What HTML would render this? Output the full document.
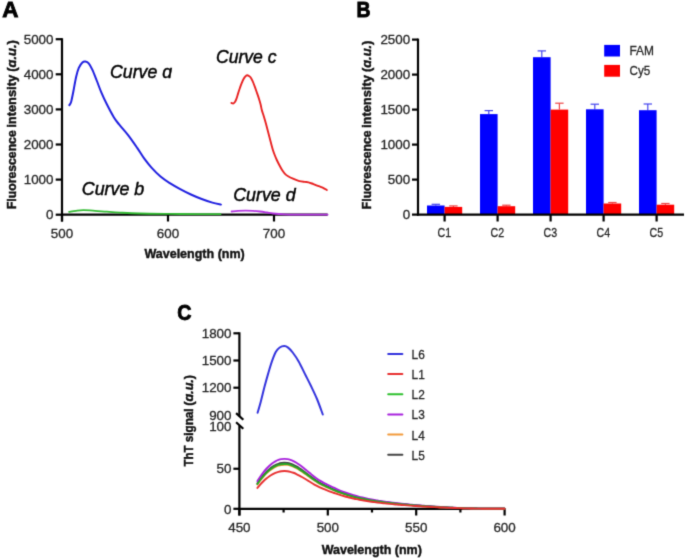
<!DOCTYPE html>
<html><head><meta charset="utf-8"><title>Figure</title>
<style>
html,body{margin:0;padding:0;background:#fff;}
body{width:685px;height:558px;overflow:hidden;}
#w{width:685px;height:558px;}
svg{display:block;will-change:transform;font-family:"Liberation Sans", sans-serif;}
</style></head><body>
<div id="w"><svg width="685" height="558" viewBox="0 0 685 558">
<defs><filter id="bl" x="0" y="0" width="100%" height="100%" color-interpolation-filters="sRGB"><feConvolveMatrix order="3" kernelMatrix="0.0192 0.1001 0.0192 0.1001 0.5228 0.1001 0.0192 0.1001 0.0192" edgeMode="duplicate"/></filter></defs>
<g filter="url(#bl)">
<rect x="0" y="0" width="685" height="558" fill="#fff"/>
<text x="2.30" y="17.20" font-size="22.40" text-anchor="start" font-weight="bold" font-style="normal" fill="#000" stroke="#000" stroke-width="0.90">A</text>
<line x1="62.00" y1="38.20" x2="62.00" y2="221.50" stroke="#000" stroke-width="2.20" stroke-linecap="butt"/>
<line x1="61.00" y1="214.70" x2="327.60" y2="214.70" stroke="#000" stroke-width="2.20" stroke-linecap="butt"/>
<line x1="55.70" y1="214.70" x2="62.00" y2="214.70" stroke="#000" stroke-width="2.20" stroke-linecap="butt"/>
<text x="53.50" y="219.10" font-size="13.40" text-anchor="end" font-weight="normal" font-style="normal" fill="#262626" stroke="#262626" stroke-width="0.30">0</text>
<line x1="55.70" y1="179.60" x2="62.00" y2="179.60" stroke="#000" stroke-width="2.20" stroke-linecap="butt"/>
<text x="53.50" y="184.00" font-size="13.40" text-anchor="end" font-weight="normal" font-style="normal" fill="#262626" stroke="#262626" stroke-width="0.30">1000</text>
<line x1="55.70" y1="144.50" x2="62.00" y2="144.50" stroke="#000" stroke-width="2.20" stroke-linecap="butt"/>
<text x="53.50" y="148.90" font-size="13.40" text-anchor="end" font-weight="normal" font-style="normal" fill="#262626" stroke="#262626" stroke-width="0.30">2000</text>
<line x1="55.70" y1="109.40" x2="62.00" y2="109.40" stroke="#000" stroke-width="2.20" stroke-linecap="butt"/>
<text x="53.50" y="113.80" font-size="13.40" text-anchor="end" font-weight="normal" font-style="normal" fill="#262626" stroke="#262626" stroke-width="0.30">3000</text>
<line x1="55.70" y1="74.30" x2="62.00" y2="74.30" stroke="#000" stroke-width="2.20" stroke-linecap="butt"/>
<text x="53.50" y="78.70" font-size="13.40" text-anchor="end" font-weight="normal" font-style="normal" fill="#262626" stroke="#262626" stroke-width="0.30">4000</text>
<line x1="55.70" y1="39.20" x2="62.00" y2="39.20" stroke="#000" stroke-width="2.20" stroke-linecap="butt"/>
<text x="53.50" y="43.60" font-size="13.40" text-anchor="end" font-weight="normal" font-style="normal" fill="#262626" stroke="#262626" stroke-width="0.30">5000</text>
<line x1="62.00" y1="214.70" x2="62.00" y2="221.50" stroke="#000" stroke-width="2.20" stroke-linecap="butt"/>
<text x="62.00" y="237.60" font-size="13.40" text-anchor="middle" font-weight="normal" font-style="normal" fill="#262626" stroke="#262626" stroke-width="0.30">500</text>
<line x1="168.00" y1="214.70" x2="168.00" y2="221.50" stroke="#000" stroke-width="2.20" stroke-linecap="butt"/>
<text x="168.00" y="237.60" font-size="13.40" text-anchor="middle" font-weight="normal" font-style="normal" fill="#262626" stroke="#262626" stroke-width="0.30">600</text>
<line x1="274.00" y1="214.70" x2="274.00" y2="221.50" stroke="#000" stroke-width="2.20" stroke-linecap="butt"/>
<text x="274.00" y="237.60" font-size="13.40" text-anchor="middle" font-weight="normal" font-style="normal" fill="#262626" stroke="#262626" stroke-width="0.30">700</text>
<text x="194.60" y="258.30" font-size="13.40" text-anchor="middle" font-weight="bold" font-style="normal" fill="#111" textLength="100.40" lengthAdjust="spacingAndGlyphs" stroke="#111" stroke-width="0.45">Wavelength (nm)</text>
<text transform="translate(16.20,209.10) rotate(-90)" x="0" y="0" font-size="12.80" font-weight="bold" fill="#111" stroke="#111" stroke-width="0.45" textLength="78.80" lengthAdjust="spacingAndGlyphs">Fluorescence</text>
<text transform="translate(16.20,127.80) rotate(-90)" x="0" y="0" font-size="12.80" font-weight="bold" fill="#111" stroke="#111" stroke-width="0.45" textLength="52.90" lengthAdjust="spacingAndGlyphs">intensity</text>
<text transform="translate(16.20,71.80) rotate(-90)" x="0" y="0" font-size="12.80" font-weight="bold" fill="#111" stroke="#111" stroke-width="0.45" textLength="31.70" lengthAdjust="spacingAndGlyphs">(<tspan font-style="italic">&#x251;.u.</tspan>)</text>
<path d="M69.30,105.20 C69.60,104.67 70.42,104.33 71.10,102.00 C71.78,99.67 72.57,95.38 73.40,91.20 C74.23,87.02 75.20,80.78 76.10,76.90 C77.00,73.02 77.75,70.30 78.80,67.90 C79.85,65.50 81.30,63.55 82.40,62.50 C83.50,61.45 84.35,61.45 85.40,61.60 C86.45,61.75 87.55,62.05 88.70,63.40 C89.85,64.75 90.97,66.85 92.30,69.70 C93.63,72.55 95.22,76.77 96.70,80.50 C98.18,84.23 99.55,88.22 101.20,92.10 C102.85,95.98 104.50,99.62 106.60,103.80 C108.70,107.98 111.72,113.77 113.80,117.20 C115.88,120.63 116.72,121.42 119.10,124.40 C121.48,127.38 125.08,131.18 128.10,135.10 C131.12,139.02 134.50,143.97 137.20,147.90 C139.90,151.83 141.92,155.42 144.30,158.70 C146.68,161.98 148.80,164.62 151.50,167.60 C154.20,170.58 157.52,174.05 160.50,176.60 C163.48,179.15 166.12,180.82 169.40,182.90 C172.68,184.98 176.62,187.17 180.20,189.10 C183.78,191.03 187.32,192.85 190.90,194.50 C194.48,196.15 198.12,197.65 201.70,199.00 C205.28,200.35 209.18,201.67 212.40,202.60 C215.62,203.53 219.57,204.27 221.00,204.60" fill="none" stroke="#2020e0" stroke-width="2.00" stroke-linejoin="round" stroke-linecap="round"/>
<path d="M231.40,103.00 C231.73,103.07 232.78,103.62 233.40,103.40 C234.02,103.18 234.58,102.50 235.10,101.70 C235.62,100.90 235.98,100.03 236.50,98.60 C237.02,97.17 237.63,94.87 238.20,93.10 C238.77,91.33 239.33,89.63 239.90,88.00 C240.47,86.37 240.97,84.83 241.60,83.30 C242.23,81.77 243.07,79.97 243.70,78.80 C244.33,77.63 244.83,76.88 245.40,76.30 C245.97,75.72 246.53,75.37 247.10,75.30 C247.67,75.23 248.23,75.57 248.80,75.90 C249.37,76.23 249.88,76.47 250.50,77.30 C251.12,78.13 251.83,79.47 252.50,80.90 C253.17,82.33 253.82,84.08 254.50,85.90 C255.18,87.72 255.92,89.85 256.60,91.80 C257.28,93.75 257.95,95.58 258.60,97.60 C259.25,99.62 259.97,101.83 260.50,103.90 C261.03,105.97 261.32,108.15 261.80,110.00 C262.28,111.85 262.88,113.33 263.40,115.00 C263.92,116.67 264.42,118.33 264.90,120.00 C265.38,121.67 265.85,123.33 266.30,125.00 C266.75,126.67 267.17,128.33 267.60,130.00 C268.03,131.67 268.47,133.33 268.90,135.00 C269.33,136.67 269.77,138.33 270.20,140.00 C270.63,141.67 271.05,143.33 271.50,145.00 C271.95,146.67 272.37,148.33 272.90,150.00 C273.43,151.67 274.05,153.33 274.70,155.00 C275.35,156.67 276.03,158.33 276.80,160.00 C277.57,161.67 278.42,163.33 279.30,165.00 C280.18,166.67 281.15,168.53 282.10,170.00 C283.05,171.47 284.00,172.77 285.00,173.80 C286.00,174.83 286.77,175.38 288.10,176.20 C289.43,177.02 291.12,177.88 293.00,178.70 C294.88,179.52 297.43,180.57 299.40,181.10 C301.37,181.63 303.28,181.70 304.80,181.90 C306.32,182.10 307.07,181.93 308.50,182.30 C309.93,182.67 311.68,183.45 313.40,184.10 C315.12,184.75 317.18,185.58 318.80,186.20 C320.42,186.82 321.77,187.17 323.10,187.80 C324.43,188.43 326.18,189.63 326.80,190.00" fill="none" stroke="#e82020" stroke-width="1.90" stroke-linejoin="round" stroke-linecap="round"/>
<path d="M69.10,211.90 C70.25,211.72 73.62,211.08 76.00,210.80 C78.38,210.52 80.23,210.20 83.40,210.20 C86.57,210.20 91.12,210.55 95.00,210.80 C98.88,211.05 102.53,211.40 106.70,211.70 C110.87,212.00 114.45,212.30 120.00,212.60 C125.55,212.90 131.67,213.28 140.00,213.50 C148.33,213.72 160.00,213.80 170.00,213.90 C180.00,214.00 191.58,214.05 200.00,214.10 C208.42,214.15 217.08,214.18 220.50,214.20" fill="none" stroke="#33bb33" stroke-width="1.80" stroke-linejoin="round" stroke-linecap="round"/>
<path d="M231.60,211.50 C232.67,211.40 235.65,211.05 238.00,210.90 C240.35,210.75 243.20,210.60 245.70,210.60 C248.20,210.60 250.60,210.75 253.00,210.90 C255.40,211.05 257.77,211.23 260.10,211.50 C262.43,211.77 264.85,212.17 267.00,212.50 C269.15,212.83 270.13,213.18 273.00,213.50 C275.87,213.82 279.70,214.22 284.20,214.40 C288.70,214.58 292.77,214.57 300.00,214.60 C307.23,214.63 323.00,214.60 327.60,214.60" fill="none" stroke="#b233e0" stroke-width="1.80" stroke-linejoin="round" stroke-linecap="round"/>
<text x="110.00" y="78.40" font-size="18.00" text-anchor="start" font-weight="normal" font-style="italic" fill="#000" textLength="62.00" lengthAdjust="spacingAndGlyphs" stroke="#000" stroke-width="0.45">Curve &#x251;</text>
<text x="216.00" y="63.40" font-size="18.00" text-anchor="start" font-weight="normal" font-style="italic" fill="#000" textLength="60.50" lengthAdjust="spacingAndGlyphs" stroke="#000" stroke-width="0.45">Curve c</text>
<text x="81.80" y="194.70" font-size="18.00" text-anchor="start" font-weight="normal" font-style="italic" fill="#000" textLength="62.50" lengthAdjust="spacingAndGlyphs" stroke="#000" stroke-width="0.45">Curve b</text>
<text x="233.20" y="201.30" font-size="18.00" text-anchor="start" font-weight="normal" font-style="italic" fill="#000" textLength="62.50" lengthAdjust="spacingAndGlyphs" stroke="#000" stroke-width="0.45">Curve d</text>
<text x="356.60" y="17.20" font-size="22.40" text-anchor="start" font-weight="bold" font-style="normal" fill="#000" textLength="14.00" lengthAdjust="spacingAndGlyphs" stroke="#000" stroke-width="0.90">B</text>
<line x1="435.80" y1="204.30" x2="435.80" y2="205.50" stroke="#4444ee" stroke-width="1.20" stroke-linecap="butt"/>
<line x1="431.60" y1="204.30" x2="440.00" y2="204.30" stroke="#4444ee" stroke-width="1.20" stroke-linecap="butt"/>
<line x1="453.40" y1="205.90" x2="453.40" y2="206.90" stroke="#ee4444" stroke-width="1.20" stroke-linecap="butt"/>
<line x1="449.20" y1="205.90" x2="457.60" y2="205.90" stroke="#ee4444" stroke-width="1.20" stroke-linecap="butt"/>
<rect x="427.00" y="205.50" width="17.60" height="9.10" fill="#0000ff"/>
<rect x="444.60" y="206.90" width="17.60" height="7.70" fill="#ff0000"/>
<line x1="488.80" y1="110.60" x2="488.80" y2="114.10" stroke="#4444ee" stroke-width="1.20" stroke-linecap="butt"/>
<line x1="484.60" y1="110.60" x2="493.00" y2="110.60" stroke="#4444ee" stroke-width="1.20" stroke-linecap="butt"/>
<line x1="506.40" y1="205.20" x2="506.40" y2="206.20" stroke="#ee4444" stroke-width="1.20" stroke-linecap="butt"/>
<line x1="502.20" y1="205.20" x2="510.60" y2="205.20" stroke="#ee4444" stroke-width="1.20" stroke-linecap="butt"/>
<rect x="480.00" y="114.10" width="17.60" height="100.50" fill="#0000ff"/>
<rect x="497.60" y="206.20" width="17.60" height="8.40" fill="#ff0000"/>
<line x1="541.80" y1="50.90" x2="541.80" y2="57.20" stroke="#4444ee" stroke-width="1.20" stroke-linecap="butt"/>
<line x1="537.60" y1="50.90" x2="546.00" y2="50.90" stroke="#4444ee" stroke-width="1.20" stroke-linecap="butt"/>
<line x1="559.40" y1="103.20" x2="559.40" y2="109.60" stroke="#ee4444" stroke-width="1.20" stroke-linecap="butt"/>
<line x1="555.20" y1="103.20" x2="563.60" y2="103.20" stroke="#ee4444" stroke-width="1.20" stroke-linecap="butt"/>
<rect x="533.00" y="57.20" width="17.60" height="157.40" fill="#0000ff"/>
<rect x="550.60" y="109.60" width="17.60" height="105.00" fill="#ff0000"/>
<line x1="594.80" y1="104.20" x2="594.80" y2="109.30" stroke="#4444ee" stroke-width="1.20" stroke-linecap="butt"/>
<line x1="590.60" y1="104.20" x2="599.00" y2="104.20" stroke="#4444ee" stroke-width="1.20" stroke-linecap="butt"/>
<line x1="612.40" y1="202.50" x2="612.40" y2="203.50" stroke="#ee4444" stroke-width="1.20" stroke-linecap="butt"/>
<line x1="608.20" y1="202.50" x2="616.60" y2="202.50" stroke="#ee4444" stroke-width="1.20" stroke-linecap="butt"/>
<rect x="586.00" y="109.30" width="17.60" height="105.30" fill="#0000ff"/>
<rect x="603.60" y="203.50" width="17.60" height="11.10" fill="#ff0000"/>
<line x1="647.80" y1="104.00" x2="647.80" y2="110.20" stroke="#4444ee" stroke-width="1.20" stroke-linecap="butt"/>
<line x1="643.60" y1="104.00" x2="652.00" y2="104.00" stroke="#4444ee" stroke-width="1.20" stroke-linecap="butt"/>
<line x1="665.40" y1="203.50" x2="665.40" y2="204.70" stroke="#ee4444" stroke-width="1.20" stroke-linecap="butt"/>
<line x1="661.20" y1="203.50" x2="669.60" y2="203.50" stroke="#ee4444" stroke-width="1.20" stroke-linecap="butt"/>
<rect x="639.00" y="110.20" width="17.60" height="104.40" fill="#0000ff"/>
<rect x="656.60" y="204.70" width="17.60" height="9.90" fill="#ff0000"/>
<line x1="418.00" y1="38.60" x2="418.00" y2="215.60" stroke="#000" stroke-width="2.20" stroke-linecap="butt"/>
<line x1="417.00" y1="214.60" x2="684.00" y2="214.60" stroke="#000" stroke-width="2.20" stroke-linecap="butt"/>
<line x1="412.00" y1="214.60" x2="418.00" y2="214.60" stroke="#000" stroke-width="2.20" stroke-linecap="butt"/>
<text x="410.20" y="218.90" font-size="13.40" text-anchor="end" font-weight="normal" font-style="normal" fill="#262626" stroke="#262626" stroke-width="0.30">0</text>
<line x1="412.00" y1="179.60" x2="418.00" y2="179.60" stroke="#000" stroke-width="2.20" stroke-linecap="butt"/>
<text x="410.20" y="183.90" font-size="13.40" text-anchor="end" font-weight="normal" font-style="normal" fill="#262626" stroke="#262626" stroke-width="0.30">500</text>
<line x1="412.00" y1="144.60" x2="418.00" y2="144.60" stroke="#000" stroke-width="2.20" stroke-linecap="butt"/>
<text x="410.20" y="148.90" font-size="13.40" text-anchor="end" font-weight="normal" font-style="normal" fill="#262626" stroke="#262626" stroke-width="0.30">1000</text>
<line x1="412.00" y1="109.60" x2="418.00" y2="109.60" stroke="#000" stroke-width="2.20" stroke-linecap="butt"/>
<text x="410.20" y="113.90" font-size="13.40" text-anchor="end" font-weight="normal" font-style="normal" fill="#262626" stroke="#262626" stroke-width="0.30">1500</text>
<line x1="412.00" y1="74.60" x2="418.00" y2="74.60" stroke="#000" stroke-width="2.20" stroke-linecap="butt"/>
<text x="410.20" y="78.90" font-size="13.40" text-anchor="end" font-weight="normal" font-style="normal" fill="#262626" stroke="#262626" stroke-width="0.30">2000</text>
<line x1="412.00" y1="39.60" x2="418.00" y2="39.60" stroke="#000" stroke-width="2.20" stroke-linecap="butt"/>
<text x="410.20" y="43.90" font-size="13.40" text-anchor="end" font-weight="normal" font-style="normal" fill="#262626" stroke="#262626" stroke-width="0.30">2500</text>
<line x1="444.60" y1="214.60" x2="444.60" y2="221.50" stroke="#000" stroke-width="2.20" stroke-linecap="butt"/>
<text x="444.30" y="236.60" font-size="13.40" text-anchor="middle" font-weight="normal" font-style="normal" fill="#262626" textLength="13.60" lengthAdjust="spacingAndGlyphs" stroke="#262626" stroke-width="0.30">C1</text>
<line x1="497.60" y1="214.60" x2="497.60" y2="221.50" stroke="#000" stroke-width="2.20" stroke-linecap="butt"/>
<text x="497.30" y="236.60" font-size="13.40" text-anchor="middle" font-weight="normal" font-style="normal" fill="#262626" textLength="13.60" lengthAdjust="spacingAndGlyphs" stroke="#262626" stroke-width="0.30">C2</text>
<line x1="550.60" y1="214.60" x2="550.60" y2="221.50" stroke="#000" stroke-width="2.20" stroke-linecap="butt"/>
<text x="550.30" y="236.60" font-size="13.40" text-anchor="middle" font-weight="normal" font-style="normal" fill="#262626" textLength="13.60" lengthAdjust="spacingAndGlyphs" stroke="#262626" stroke-width="0.30">C3</text>
<line x1="603.60" y1="214.60" x2="603.60" y2="221.50" stroke="#000" stroke-width="2.20" stroke-linecap="butt"/>
<text x="603.30" y="236.60" font-size="13.40" text-anchor="middle" font-weight="normal" font-style="normal" fill="#262626" textLength="13.60" lengthAdjust="spacingAndGlyphs" stroke="#262626" stroke-width="0.30">C4</text>
<line x1="656.60" y1="214.60" x2="656.60" y2="221.50" stroke="#000" stroke-width="2.20" stroke-linecap="butt"/>
<text x="656.30" y="236.60" font-size="13.40" text-anchor="middle" font-weight="normal" font-style="normal" fill="#262626" textLength="13.60" lengthAdjust="spacingAndGlyphs" stroke="#262626" stroke-width="0.30">C5</text>
<text transform="translate(371.30,209.20) rotate(-90)" x="0" y="0" font-size="12.80" font-weight="bold" fill="#111" stroke="#111" stroke-width="0.45" textLength="78.70" lengthAdjust="spacingAndGlyphs">Fluorescence</text>
<text transform="translate(371.30,128.00) rotate(-90)" x="0" y="0" font-size="12.80" font-weight="bold" fill="#111" stroke="#111" stroke-width="0.45" textLength="52.80" lengthAdjust="spacingAndGlyphs">intensity</text>
<text transform="translate(371.30,72.10) rotate(-90)" x="0" y="0" font-size="12.80" font-weight="bold" fill="#111" stroke="#111" stroke-width="0.45" textLength="31.50" lengthAdjust="spacingAndGlyphs">(<tspan font-style="italic">&#x251;.u.</tspan>)</text>
<rect x="604.20" y="44.90" width="15.80" height="11.60" fill="#0000ff"/>
<rect x="604.20" y="64.90" width="15.80" height="11.80" fill="#ff0000"/>
<text x="629.50" y="54.90" font-size="13.40" text-anchor="start" font-weight="normal" font-style="normal" fill="#262626" textLength="24.50" lengthAdjust="spacingAndGlyphs" stroke="#262626" stroke-width="0.30">FAM</text>
<text x="629.50" y="74.90" font-size="13.40" text-anchor="start" font-weight="normal" font-style="normal" fill="#262626" textLength="20.70" lengthAdjust="spacingAndGlyphs" stroke="#262626" stroke-width="0.30">Cy5</text>
<text x="177.30" y="320.40" font-size="22.40" text-anchor="start" font-weight="bold" font-style="normal" fill="#000" textLength="14.20" lengthAdjust="spacingAndGlyphs" stroke="#000" stroke-width="0.90">C</text>
<line x1="239.40" y1="332.30" x2="239.40" y2="416.50" stroke="#000" stroke-width="2.20" stroke-linecap="butt"/>
<line x1="239.40" y1="425.50" x2="239.40" y2="515.50" stroke="#000" stroke-width="2.20" stroke-linecap="butt"/>
<line x1="236.10" y1="413.10" x2="243.30" y2="419.70" stroke="#000" stroke-width="2.20" stroke-linecap="butt"/>
<line x1="236.10" y1="422.20" x2="243.30" y2="428.70" stroke="#000" stroke-width="2.20" stroke-linecap="butt"/>
<line x1="233.40" y1="333.30" x2="239.40" y2="333.30" stroke="#000" stroke-width="2.20" stroke-linecap="butt"/>
<text x="231.50" y="338.00" font-size="13.40" text-anchor="end" font-weight="normal" font-style="normal" fill="#262626" stroke="#262626" stroke-width="0.30">1800</text>
<line x1="233.40" y1="360.50" x2="239.40" y2="360.50" stroke="#000" stroke-width="2.20" stroke-linecap="butt"/>
<text x="231.50" y="365.20" font-size="13.40" text-anchor="end" font-weight="normal" font-style="normal" fill="#262626" stroke="#262626" stroke-width="0.30">1500</text>
<line x1="233.40" y1="387.70" x2="239.40" y2="387.70" stroke="#000" stroke-width="2.20" stroke-linecap="butt"/>
<text x="231.50" y="392.40" font-size="13.40" text-anchor="end" font-weight="normal" font-style="normal" fill="#262626" stroke="#262626" stroke-width="0.30">1200</text>
<text x="231.50" y="419.70" font-size="13.40" text-anchor="end" font-weight="normal" font-style="normal" fill="#262626" stroke="#262626" stroke-width="0.30">900</text>
<text x="231.50" y="431.20" font-size="13.40" text-anchor="end" font-weight="normal" font-style="normal" fill="#262626" stroke="#262626" stroke-width="0.30">100</text>
<line x1="233.40" y1="468.75" x2="239.40" y2="468.75" stroke="#000" stroke-width="2.20" stroke-linecap="butt"/>
<text x="231.50" y="473.45" font-size="13.40" text-anchor="end" font-weight="normal" font-style="normal" fill="#262626" stroke="#262626" stroke-width="0.30">50</text>
<line x1="233.40" y1="508.80" x2="239.40" y2="508.80" stroke="#000" stroke-width="2.20" stroke-linecap="butt"/>
<text x="231.50" y="513.50" font-size="13.40" text-anchor="end" font-weight="normal" font-style="normal" fill="#262626" stroke="#262626" stroke-width="0.30">0</text>
<line x1="238.40" y1="508.80" x2="505.00" y2="508.80" stroke="#000" stroke-width="2.20" stroke-linecap="butt"/>
<line x1="239.40" y1="508.80" x2="239.40" y2="515.50" stroke="#000" stroke-width="2.20" stroke-linecap="butt"/>
<text x="239.40" y="531.60" font-size="13.40" text-anchor="middle" font-weight="normal" font-style="normal" fill="#262626" stroke="#262626" stroke-width="0.30">450</text>
<line x1="327.80" y1="508.80" x2="327.80" y2="515.50" stroke="#000" stroke-width="2.20" stroke-linecap="butt"/>
<text x="327.80" y="531.60" font-size="13.40" text-anchor="middle" font-weight="normal" font-style="normal" fill="#262626" stroke="#262626" stroke-width="0.30">500</text>
<line x1="416.20" y1="508.80" x2="416.20" y2="515.50" stroke="#000" stroke-width="2.20" stroke-linecap="butt"/>
<text x="416.20" y="531.60" font-size="13.40" text-anchor="middle" font-weight="normal" font-style="normal" fill="#262626" stroke="#262626" stroke-width="0.30">550</text>
<line x1="504.60" y1="508.80" x2="504.60" y2="515.50" stroke="#000" stroke-width="2.20" stroke-linecap="butt"/>
<text x="504.60" y="531.60" font-size="13.40" text-anchor="middle" font-weight="normal" font-style="normal" fill="#262626" stroke="#262626" stroke-width="0.30">600</text>
<line x1="283.60" y1="508.80" x2="283.60" y2="512.50" stroke="#000" stroke-width="2.20" stroke-linecap="butt"/>
<line x1="372.00" y1="508.80" x2="372.00" y2="512.50" stroke="#000" stroke-width="2.20" stroke-linecap="butt"/>
<line x1="460.40" y1="508.80" x2="460.40" y2="512.50" stroke="#000" stroke-width="2.20" stroke-linecap="butt"/>
<text x="371.80" y="553.70" font-size="13.40" text-anchor="middle" font-weight="bold" font-style="normal" fill="#111" textLength="100.20" lengthAdjust="spacingAndGlyphs" stroke="#111" stroke-width="0.45">Wavelength (nm)</text>
<text transform="translate(192.90,466.50) rotate(-90)" x="0" y="0" font-size="12.80" font-weight="bold" fill="#111" stroke="#111" stroke-width="0.45" textLength="21.10" lengthAdjust="spacingAndGlyphs">ThT</text>
<text transform="translate(192.90,442.30) rotate(-90)" x="0" y="0" font-size="12.80" font-weight="bold" fill="#111" stroke="#111" stroke-width="0.45" textLength="33.90" lengthAdjust="spacingAndGlyphs">signal</text>
<text transform="translate(192.90,405.80) rotate(-90)" x="0" y="0" font-size="12.80" font-weight="bold" fill="#111" stroke="#111" stroke-width="0.45" textLength="30.90" lengthAdjust="spacingAndGlyphs">(<tspan font-style="italic">&#x251;.u.</tspan>)</text>
<line x1="388.20" y1="353.90" x2="402.40" y2="353.90" stroke="#3333dd" stroke-width="2.00" stroke-linecap="round"/>
<text x="411.60" y="358.90" font-size="13.40" text-anchor="start" font-weight="normal" font-style="normal" fill="#262626" textLength="13.20" lengthAdjust="spacingAndGlyphs" stroke="#262626" stroke-width="0.30">L6</text>
<line x1="388.20" y1="374.08" x2="402.40" y2="374.08" stroke="#e83030" stroke-width="2.00" stroke-linecap="round"/>
<text x="411.60" y="379.08" font-size="13.40" text-anchor="start" font-weight="normal" font-style="normal" fill="#262626" textLength="13.20" lengthAdjust="spacingAndGlyphs" stroke="#262626" stroke-width="0.30">L1</text>
<line x1="388.20" y1="394.26" x2="402.40" y2="394.26" stroke="#2ec02e" stroke-width="2.00" stroke-linecap="round"/>
<text x="411.60" y="399.26" font-size="13.40" text-anchor="start" font-weight="normal" font-style="normal" fill="#262626" textLength="13.20" lengthAdjust="spacingAndGlyphs" stroke="#262626" stroke-width="0.30">L2</text>
<line x1="388.20" y1="414.44" x2="402.40" y2="414.44" stroke="#a822dd" stroke-width="2.00" stroke-linecap="round"/>
<text x="411.60" y="419.44" font-size="13.40" text-anchor="start" font-weight="normal" font-style="normal" fill="#262626" textLength="13.20" lengthAdjust="spacingAndGlyphs" stroke="#262626" stroke-width="0.30">L3</text>
<line x1="388.20" y1="434.62" x2="402.40" y2="434.62" stroke="#f29a3a" stroke-width="2.00" stroke-linecap="round"/>
<text x="411.60" y="439.62" font-size="13.40" text-anchor="start" font-weight="normal" font-style="normal" fill="#262626" textLength="13.20" lengthAdjust="spacingAndGlyphs" stroke="#262626" stroke-width="0.30">L4</text>
<line x1="388.20" y1="454.80" x2="402.40" y2="454.80" stroke="#444444" stroke-width="2.00" stroke-linecap="round"/>
<text x="411.60" y="459.80" font-size="13.40" text-anchor="start" font-weight="normal" font-style="normal" fill="#262626" textLength="13.20" lengthAdjust="spacingAndGlyphs" stroke="#262626" stroke-width="0.30">L5</text>
<path d="M257.60,412.70 C258.12,410.92 259.55,406.32 260.70,402.00 C261.85,397.68 263.23,391.62 264.50,386.80 C265.77,381.98 267.03,377.42 268.30,373.10 C269.57,368.78 270.83,364.45 272.10,360.90 C273.37,357.35 274.63,354.03 275.90,351.80 C277.17,349.57 278.30,348.45 279.70,347.50 C281.10,346.55 282.90,346.08 284.30,346.10 C285.70,346.12 286.70,346.53 288.10,347.60 C289.50,348.67 290.92,350.15 292.70,352.50 C294.48,354.85 296.77,358.13 298.80,361.70 C300.83,365.27 302.87,369.85 304.90,373.90 C306.93,377.95 308.98,381.82 311.00,386.00 C313.02,390.18 315.03,394.25 317.00,399.00 C318.97,403.75 321.83,411.92 322.80,414.50" fill="none" stroke="#3333dd" stroke-width="2.00" stroke-linejoin="round" stroke-linecap="round"/>
<path d="M257.40,484.42 C257.90,483.73 259.40,481.57 260.40,480.26 C261.40,478.96 262.40,477.74 263.40,476.60 C264.40,475.46 265.40,474.41 266.40,473.44 C267.40,472.46 268.40,471.57 269.40,470.76 C270.40,469.95 271.40,469.23 272.40,468.58 C273.40,467.94 274.40,467.37 275.40,466.88 C276.40,466.40 277.40,465.99 278.40,465.67 C279.40,465.35 280.40,465.10 281.40,464.94 C282.40,464.77 283.40,464.69 284.40,464.68 C285.40,464.68 286.40,464.75 287.40,464.90 C288.40,465.05 289.40,465.29 290.40,465.59 C291.40,465.89 292.40,466.28 293.40,466.71 C294.40,467.15 295.40,467.65 296.40,468.19 C297.40,468.74 298.40,469.34 299.40,469.97 C300.40,470.59 301.40,471.27 302.40,471.95 C303.40,472.63 304.40,473.35 305.40,474.06 C306.40,474.78 307.40,475.52 308.40,476.25 C309.40,476.97 310.40,477.71 311.40,478.42 C312.40,479.12 313.40,479.83 314.40,480.50 C315.40,481.17 316.40,481.82 317.40,482.42 C318.40,483.02 319.40,483.59 320.40,484.12 C321.40,484.66 322.40,485.16 323.40,485.64 C324.40,486.12 325.40,486.57 326.40,487.02 C327.40,487.47 328.40,487.90 329.40,488.34 C330.40,488.77 331.40,489.20 332.40,489.62 C333.40,490.04 334.40,490.46 335.40,490.87 C336.40,491.27 337.40,491.66 338.40,492.03 C339.40,492.41 340.40,492.77 341.40,493.12 C342.40,493.47 343.40,493.80 344.40,494.13 C345.40,494.46 346.40,494.77 347.40,495.07 C348.40,495.37 349.40,495.66 350.40,495.94 C351.40,496.23 352.40,496.50 353.40,496.76 C354.40,497.02 355.40,497.27 356.40,497.51 C357.40,497.75 358.40,497.99 359.40,498.21 C360.40,498.43 361.40,498.65 362.40,498.86 C363.40,499.06 364.40,499.26 365.40,499.46 C366.40,499.65 367.40,499.84 368.40,500.02 C369.40,500.20 370.40,500.37 371.40,500.54 C372.40,500.70 373.40,500.86 374.40,501.02 C375.40,501.18 376.40,501.33 377.40,501.47 C378.40,501.62 379.40,501.76 380.40,501.90 C381.40,502.03 382.40,502.17 383.40,502.30 C384.40,502.43 385.40,502.55 386.40,502.68 C387.40,502.80 388.40,502.92 389.40,503.03 C390.40,503.15 391.40,503.26 392.40,503.37 C393.40,503.48 394.40,503.59 395.40,503.69 C396.40,503.80 397.40,503.90 398.40,504.00 C399.40,504.10 400.40,504.19 401.40,504.29 C402.40,504.38 403.40,504.48 404.40,504.57 C405.40,504.66 406.40,504.75 407.40,504.84 C408.40,504.92 409.40,505.01 410.40,505.09 C411.40,505.18 412.40,505.26 413.40,505.34 C414.40,505.42 415.40,505.50 416.40,505.58 C417.40,505.66 418.40,505.74 419.40,505.82 C420.40,505.89 421.40,505.97 422.40,506.04 C423.40,506.12 424.40,506.19 425.40,506.26 C426.40,506.33 427.40,506.40 428.40,506.47 C429.40,506.53 430.40,506.60 431.40,506.66 C432.40,506.73 433.40,506.79 434.40,506.85 C435.40,506.91 436.40,506.97 437.40,507.03 C438.40,507.09 439.40,507.15 440.40,507.21 C441.40,507.26 442.40,507.32 443.40,507.37 C444.40,507.42 445.40,507.47 446.40,507.52 C447.40,507.57 448.40,507.62 449.40,507.66 C450.40,507.71 451.40,507.76 452.40,507.80 C453.40,507.84 454.40,507.89 455.40,507.93 C456.40,507.97 457.40,508.01 458.40,508.05 C459.40,508.08 460.40,508.12 461.40,508.16 C462.40,508.19 463.40,508.23 464.40,508.26 C465.40,508.29 466.40,508.32 467.40,508.35 C468.40,508.37 469.40,508.40 470.40,508.43 C471.40,508.46 472.40,508.48 473.40,508.50 C474.40,508.53 475.40,508.55 476.40,508.57 C477.40,508.59 478.40,508.61 479.40,508.62 C480.40,508.64 481.40,508.65 482.40,508.67 C483.40,508.68 484.40,508.70 485.40,508.71 C486.40,508.72 487.40,508.73 488.40,508.73 C489.40,508.74 490.40,508.75 491.40,508.75 C492.40,508.76 493.40,508.76 494.40,508.76 C495.40,508.76 496.40,508.76 497.40,508.76 C498.40,508.76 499.40,508.76 500.40,508.75 C501.40,508.75 502.70,508.74 503.40,508.73 C504.10,508.73 504.40,508.73 504.60,508.73" fill="none" stroke="#f29a3a" stroke-width="1.90" stroke-linejoin="round" stroke-linecap="round"/>
<path d="M257.40,483.36 C257.90,482.64 259.40,480.38 260.40,479.02 C261.40,477.65 262.40,476.38 263.40,475.20 C264.40,474.01 265.40,472.91 266.40,471.89 C267.40,470.88 268.40,469.95 269.40,469.10 C270.40,468.26 271.40,467.50 272.40,466.83 C273.40,466.15 274.40,465.56 275.40,465.05 C276.40,464.55 277.40,464.13 278.40,463.79 C279.40,463.45 280.40,463.20 281.40,463.02 C282.40,462.85 283.40,462.77 284.40,462.76 C285.40,462.75 286.40,462.83 287.40,462.98 C288.40,463.14 289.40,463.39 290.40,463.71 C291.40,464.02 292.40,464.42 293.40,464.88 C294.40,465.33 295.40,465.86 296.40,466.42 C297.40,466.99 298.40,467.62 299.40,468.27 C300.40,468.92 301.40,469.63 302.40,470.34 C303.40,471.05 304.40,471.80 305.40,472.55 C306.40,473.29 307.40,474.07 308.40,474.83 C309.40,475.58 310.40,476.35 311.40,477.09 C312.40,477.83 313.40,478.57 314.40,479.26 C315.40,479.96 316.40,480.64 317.40,481.27 C318.40,481.90 319.40,482.49 320.40,483.05 C321.40,483.61 322.40,484.13 323.40,484.63 C324.40,485.13 325.40,485.60 326.40,486.07 C327.40,486.54 328.40,486.99 329.40,487.44 C330.40,487.90 331.40,488.35 332.40,488.79 C333.40,489.23 334.40,489.66 335.40,490.08 C336.40,490.50 337.40,490.91 338.40,491.30 C339.40,491.69 340.40,492.07 341.40,492.43 C342.40,492.80 343.40,493.15 344.40,493.49 C345.40,493.83 346.40,494.16 347.40,494.47 C348.40,494.79 349.40,495.09 350.40,495.38 C351.40,495.68 352.40,495.96 353.40,496.23 C354.40,496.51 355.40,496.77 356.40,497.02 C357.40,497.27 358.40,497.51 359.40,497.75 C360.40,497.98 361.40,498.21 362.40,498.42 C363.40,498.64 364.40,498.85 365.40,499.05 C366.40,499.25 367.40,499.44 368.40,499.63 C369.40,499.82 370.40,500.00 371.40,500.17 C372.40,500.35 373.40,500.52 374.40,500.68 C375.40,500.84 376.40,501.00 377.40,501.15 C378.40,501.31 379.40,501.45 380.40,501.60 C381.40,501.74 382.40,501.88 383.40,502.01 C384.40,502.15 385.40,502.28 386.40,502.41 C387.40,502.54 388.40,502.66 389.40,502.78 C390.40,502.90 391.40,503.02 392.40,503.14 C393.40,503.25 394.40,503.36 395.40,503.47 C396.40,503.58 397.40,503.69 398.40,503.79 C399.40,503.89 400.40,503.99 401.40,504.09 C402.40,504.19 403.40,504.29 404.40,504.38 C405.40,504.48 406.40,504.57 407.40,504.66 C408.40,504.75 409.40,504.84 410.40,504.93 C411.40,505.02 412.40,505.10 413.40,505.19 C414.40,505.28 415.40,505.36 416.40,505.44 C417.40,505.53 418.40,505.61 419.40,505.69 C420.40,505.77 421.40,505.85 422.40,505.92 C423.40,506.00 424.40,506.07 425.40,506.15 C426.40,506.22 427.40,506.29 428.40,506.36 C429.40,506.43 430.40,506.50 431.40,506.57 C432.40,506.64 433.40,506.70 434.40,506.77 C435.40,506.83 436.40,506.90 437.40,506.96 C438.40,507.02 439.40,507.08 440.40,507.14 C441.40,507.19 442.40,507.25 443.40,507.31 C444.40,507.36 445.40,507.42 446.40,507.47 C447.40,507.52 448.40,507.57 449.40,507.61 C450.40,507.66 451.40,507.71 452.40,507.76 C453.40,507.80 454.40,507.85 455.40,507.89 C456.40,507.93 457.40,507.97 458.40,508.01 C459.40,508.05 460.40,508.09 461.40,508.13 C462.40,508.17 463.40,508.20 464.40,508.23 C465.40,508.27 466.40,508.30 467.40,508.33 C468.40,508.36 469.40,508.39 470.40,508.41 C471.40,508.44 472.40,508.47 473.40,508.49 C474.40,508.52 475.40,508.54 476.40,508.56 C477.40,508.58 478.40,508.60 479.40,508.62 C480.40,508.63 481.40,508.65 482.40,508.66 C483.40,508.68 484.40,508.69 485.40,508.70 C486.40,508.71 487.40,508.72 488.40,508.73 C489.40,508.74 490.40,508.74 491.40,508.75 C492.40,508.75 493.40,508.76 494.40,508.76 C495.40,508.76 496.40,508.76 497.40,508.76 C498.40,508.76 499.40,508.75 500.40,508.75 C501.40,508.74 502.70,508.74 503.40,508.73 C504.10,508.73 504.40,508.72 504.60,508.72" fill="none" stroke="#444444" stroke-width="1.90" stroke-linejoin="round" stroke-linecap="round"/>
<path d="M257.40,481.19 C257.90,480.40 259.40,477.95 260.40,476.47 C261.40,475.00 262.40,473.61 263.40,472.33 C264.40,471.04 265.40,469.85 266.40,468.74 C267.40,467.64 268.40,466.63 269.40,465.71 C270.40,464.80 271.40,463.98 272.40,463.24 C273.40,462.51 274.40,461.87 275.40,461.32 C276.40,460.77 277.40,460.31 278.40,459.95 C279.40,459.58 280.40,459.30 281.40,459.12 C282.40,458.93 283.40,458.84 284.40,458.83 C285.40,458.82 286.40,458.90 287.40,459.07 C288.40,459.24 289.40,459.51 290.40,459.86 C291.40,460.20 292.40,460.64 293.40,461.13 C294.40,461.62 295.40,462.19 296.40,462.81 C297.40,463.42 298.40,464.10 299.40,464.81 C300.40,465.52 301.40,466.28 302.40,467.06 C303.40,467.83 304.40,468.64 305.40,469.45 C306.40,470.26 307.40,471.11 308.40,471.93 C309.40,472.75 310.40,473.58 311.40,474.38 C312.40,475.18 313.40,475.99 314.40,476.74 C315.40,477.50 316.40,478.23 317.40,478.92 C318.40,479.60 319.40,480.24 320.40,480.85 C321.40,481.46 322.40,482.02 323.40,482.57 C324.40,483.11 325.40,483.62 326.40,484.13 C327.40,484.64 328.40,485.13 329.40,485.62 C330.40,486.11 331.40,486.60 332.40,487.08 C333.40,487.55 334.40,488.03 335.40,488.48 C336.40,488.94 337.40,489.38 338.40,489.81 C339.40,490.23 340.40,490.64 341.40,491.03 C342.40,491.43 343.40,491.81 344.40,492.18 C345.40,492.55 346.40,492.91 347.40,493.25 C348.40,493.59 349.40,493.92 350.40,494.24 C351.40,494.56 352.40,494.87 353.40,495.16 C354.40,495.46 355.40,495.74 356.40,496.02 C357.40,496.29 358.40,496.55 359.40,496.80 C360.40,497.06 361.40,497.30 362.40,497.54 C363.40,497.77 364.40,498.00 365.40,498.22 C366.40,498.43 367.40,498.65 368.40,498.85 C369.40,499.05 370.40,499.25 371.40,499.44 C372.40,499.63 373.40,499.81 374.40,499.99 C375.40,500.16 376.40,500.34 377.40,500.50 C378.40,500.67 379.40,500.82 380.40,500.98 C381.40,501.14 382.40,501.29 383.40,501.43 C384.40,501.58 385.40,501.72 386.40,501.86 C387.40,502.00 388.40,502.14 389.40,502.27 C390.40,502.40 391.40,502.53 392.40,502.65 C393.40,502.78 394.40,502.90 395.40,503.02 C396.40,503.13 397.40,503.25 398.40,503.36 C399.40,503.47 400.40,503.58 401.40,503.69 C402.40,503.80 403.40,503.90 404.40,504.00 C405.40,504.11 406.40,504.21 407.40,504.31 C408.40,504.41 409.40,504.50 410.40,504.60 C411.40,504.69 412.40,504.79 413.40,504.88 C414.40,504.98 415.40,505.07 416.40,505.16 C417.40,505.25 418.40,505.34 419.40,505.42 C420.40,505.51 421.40,505.59 422.40,505.68 C423.40,505.76 424.40,505.84 425.40,505.92 C426.40,506.00 427.40,506.08 428.40,506.16 C429.40,506.23 430.40,506.31 431.40,506.38 C432.40,506.45 433.40,506.52 434.40,506.59 C435.40,506.66 436.40,506.73 437.40,506.80 C438.40,506.87 439.40,506.93 440.40,506.99 C441.40,507.06 442.40,507.12 443.40,507.18 C444.40,507.24 445.40,507.30 446.40,507.35 C447.40,507.41 448.40,507.46 449.40,507.51 C450.40,507.56 451.40,507.62 452.40,507.67 C453.40,507.72 454.40,507.77 455.40,507.81 C456.40,507.86 457.40,507.90 458.40,507.95 C459.40,507.99 460.40,508.03 461.40,508.07 C462.40,508.11 463.40,508.15 464.40,508.19 C465.40,508.22 466.40,508.25 467.40,508.29 C468.40,508.32 469.40,508.35 470.40,508.38 C471.40,508.41 472.40,508.44 473.40,508.47 C474.40,508.49 475.40,508.51 476.40,508.54 C477.40,508.56 478.40,508.58 479.40,508.60 C480.40,508.62 481.40,508.63 482.40,508.65 C483.40,508.67 484.40,508.68 485.40,508.70 C486.40,508.71 487.40,508.72 488.40,508.73 C489.40,508.73 490.40,508.74 491.40,508.75 C492.40,508.75 493.40,508.75 494.40,508.76 C495.40,508.76 496.40,508.76 497.40,508.76 C498.40,508.75 499.40,508.75 500.40,508.75 C501.40,508.74 502.70,508.73 503.40,508.73 C504.10,508.72 504.40,508.72 504.60,508.72" fill="none" stroke="#a822dd" stroke-width="1.90" stroke-linejoin="round" stroke-linecap="round"/>
<path d="M257.40,484.03 C257.90,483.32 259.40,481.12 260.40,479.79 C261.40,478.47 262.40,477.23 263.40,476.07 C264.40,474.92 265.40,473.85 266.40,472.86 C267.40,471.87 268.40,470.96 269.40,470.14 C270.40,469.32 271.40,468.58 272.40,467.92 C273.40,467.27 274.40,466.69 275.40,466.20 C276.40,465.70 277.40,465.29 278.40,464.96 C279.40,464.64 280.40,464.39 281.40,464.22 C282.40,464.05 283.40,463.97 284.40,463.96 C285.40,463.95 286.40,464.03 287.40,464.18 C288.40,464.33 289.40,464.58 290.40,464.88 C291.40,465.19 292.40,465.58 293.40,466.03 C294.40,466.47 295.40,466.98 296.40,467.53 C297.40,468.08 298.40,468.69 299.40,469.33 C300.40,469.97 301.40,470.65 302.40,471.34 C303.40,472.04 304.40,472.77 305.40,473.49 C306.40,474.22 307.40,474.98 308.40,475.72 C309.40,476.45 310.40,477.20 311.40,477.92 C312.40,478.64 313.40,479.36 314.40,480.04 C315.40,480.71 316.40,481.37 317.40,481.99 C318.40,482.60 319.40,483.18 320.40,483.72 C321.40,484.27 322.40,484.77 323.40,485.26 C324.40,485.75 325.40,486.21 326.40,486.67 C327.40,487.12 328.40,487.56 329.40,488.00 C330.40,488.44 331.40,488.88 332.40,489.31 C333.40,489.74 334.40,490.16 335.40,490.57 C336.40,490.98 337.40,491.38 338.40,491.76 C339.40,492.14 340.40,492.50 341.40,492.86 C342.40,493.22 343.40,493.56 344.40,493.89 C345.40,494.22 346.40,494.54 347.40,494.85 C348.40,495.16 349.40,495.45 350.40,495.73 C351.40,496.02 352.40,496.30 353.40,496.56 C354.40,496.83 355.40,497.08 356.40,497.33 C357.40,497.57 358.40,497.81 359.40,498.04 C360.40,498.26 361.40,498.48 362.40,498.69 C363.40,498.91 364.40,499.11 365.40,499.30 C366.40,499.50 367.40,499.69 368.40,499.87 C369.40,500.05 370.40,500.23 371.40,500.40 C372.40,500.57 373.40,500.73 374.40,500.89 C375.40,501.05 376.40,501.21 377.40,501.35 C378.40,501.50 379.40,501.64 380.40,501.78 C381.40,501.92 382.40,502.06 383.40,502.19 C384.40,502.32 385.40,502.45 386.40,502.58 C387.40,502.70 388.40,502.82 389.40,502.94 C390.40,503.06 391.40,503.17 392.40,503.28 C393.40,503.40 394.40,503.50 395.40,503.61 C396.40,503.72 397.40,503.82 398.40,503.92 C399.40,504.02 400.40,504.12 401.40,504.21 C402.40,504.31 403.40,504.40 404.40,504.50 C405.40,504.59 406.40,504.68 407.40,504.77 C408.40,504.86 409.40,504.94 410.40,505.03 C411.40,505.12 412.40,505.20 413.40,505.29 C414.40,505.37 415.40,505.45 416.40,505.53 C417.40,505.61 418.40,505.69 419.40,505.77 C420.40,505.85 421.40,505.92 422.40,506.00 C423.40,506.07 424.40,506.14 425.40,506.22 C426.40,506.29 427.40,506.36 428.40,506.43 C429.40,506.50 430.40,506.56 431.40,506.63 C432.40,506.69 433.40,506.76 434.40,506.82 C435.40,506.88 436.40,506.94 437.40,507.00 C438.40,507.06 439.40,507.12 440.40,507.18 C441.40,507.24 442.40,507.29 443.40,507.34 C444.40,507.40 445.40,507.45 446.40,507.50 C447.40,507.55 448.40,507.60 449.40,507.64 C450.40,507.69 451.40,507.74 452.40,507.78 C453.40,507.83 454.40,507.87 455.40,507.91 C456.40,507.96 457.40,508.00 458.40,508.03 C459.40,508.07 460.40,508.11 461.40,508.15 C462.40,508.18 463.40,508.22 464.40,508.25 C465.40,508.28 466.40,508.31 467.40,508.34 C468.40,508.37 469.40,508.40 470.40,508.42 C471.40,508.45 472.40,508.48 473.40,508.50 C474.40,508.52 475.40,508.54 476.40,508.56 C477.40,508.58 478.40,508.60 479.40,508.62 C480.40,508.64 481.40,508.65 482.40,508.67 C483.40,508.68 484.40,508.69 485.40,508.71 C486.40,508.72 487.40,508.73 488.40,508.73 C489.40,508.74 490.40,508.75 491.40,508.75 C492.40,508.76 493.40,508.76 494.40,508.76 C495.40,508.76 496.40,508.76 497.40,508.76 C498.40,508.76 499.40,508.76 500.40,508.75 C501.40,508.75 502.70,508.74 503.40,508.73 C504.10,508.73 504.40,508.73 504.60,508.72" fill="none" stroke="#26aa26" stroke-width="1.90" stroke-linejoin="round" stroke-linecap="round"/>
<path d="M257.40,487.93 C257.90,487.33 259.40,485.48 260.40,484.36 C261.40,483.24 262.40,482.20 263.40,481.23 C264.40,480.25 265.40,479.35 266.40,478.52 C267.40,477.68 268.40,476.92 269.40,476.23 C270.40,475.53 271.40,474.91 272.40,474.36 C273.40,473.80 274.40,473.32 275.40,472.90 C276.40,472.49 277.40,472.14 278.40,471.87 C279.40,471.59 280.40,471.38 281.40,471.24 C282.40,471.10 283.40,471.03 284.40,471.02 C285.40,471.01 286.40,471.08 287.40,471.20 C288.40,471.33 289.40,471.54 290.40,471.80 C291.40,472.06 292.40,472.39 293.40,472.76 C294.40,473.13 295.40,473.56 296.40,474.03 C297.40,474.49 298.40,475.01 299.40,475.54 C300.40,476.08 301.40,476.66 302.40,477.24 C303.40,477.83 304.40,478.44 305.40,479.05 C306.40,479.67 307.40,480.30 308.40,480.92 C309.40,481.54 310.40,482.17 311.40,482.78 C312.40,483.39 313.40,483.99 314.40,484.56 C315.40,485.14 316.40,485.69 317.40,486.21 C318.40,486.73 319.40,487.21 320.40,487.67 C321.40,488.13 322.40,488.55 323.40,488.97 C324.40,489.38 325.40,489.77 326.40,490.15 C327.40,490.54 328.40,490.90 329.40,491.28 C330.40,491.65 331.40,492.02 332.40,492.38 C333.40,492.74 334.40,493.10 335.40,493.44 C336.40,493.79 337.40,494.12 338.40,494.44 C339.40,494.76 340.40,495.07 341.40,495.37 C342.40,495.67 343.40,495.96 344.40,496.24 C345.40,496.52 346.40,496.79 347.40,497.04 C348.40,497.30 349.40,497.55 350.40,497.79 C351.40,498.03 352.40,498.27 353.40,498.49 C354.40,498.71 355.40,498.93 356.40,499.13 C357.40,499.34 358.40,499.54 359.40,499.73 C360.40,499.92 361.40,500.11 362.40,500.28 C363.40,500.46 364.40,500.63 365.40,500.80 C366.40,500.96 367.40,501.12 368.40,501.28 C369.40,501.43 370.40,501.58 371.40,501.72 C372.40,501.87 373.40,502.00 374.40,502.14 C375.40,502.27 376.40,502.40 377.40,502.53 C378.40,502.65 379.40,502.77 380.40,502.89 C381.40,503.01 382.40,503.12 383.40,503.23 C384.40,503.34 385.40,503.45 386.40,503.56 C387.40,503.66 388.40,503.76 389.40,503.86 C390.40,503.96 391.40,504.06 392.40,504.15 C393.40,504.25 394.40,504.34 395.40,504.43 C396.40,504.52 397.40,504.60 398.40,504.69 C399.40,504.77 400.40,504.86 401.40,504.94 C402.40,505.02 403.40,505.10 404.40,505.17 C405.40,505.25 406.40,505.33 407.40,505.40 C408.40,505.48 409.40,505.55 410.40,505.62 C411.40,505.70 412.40,505.77 413.40,505.84 C414.40,505.91 415.40,505.98 416.40,506.05 C417.40,506.11 418.40,506.18 419.40,506.25 C420.40,506.31 421.40,506.38 422.40,506.44 C423.40,506.50 424.40,506.56 425.40,506.62 C426.40,506.68 427.40,506.74 428.40,506.80 C429.40,506.86 430.40,506.91 431.40,506.97 C432.40,507.03 433.40,507.08 434.40,507.13 C435.40,507.19 436.40,507.24 437.40,507.29 C438.40,507.34 439.40,507.39 440.40,507.43 C441.40,507.48 442.40,507.53 443.40,507.57 C444.40,507.62 445.40,507.66 446.40,507.71 C447.40,507.75 448.40,507.79 449.40,507.83 C450.40,507.87 451.40,507.91 452.40,507.94 C453.40,507.98 454.40,508.02 455.40,508.05 C456.40,508.09 457.40,508.12 458.40,508.15 C459.40,508.19 460.40,508.22 461.40,508.25 C462.40,508.28 463.40,508.31 464.40,508.34 C465.40,508.36 466.40,508.39 467.40,508.41 C468.40,508.44 469.40,508.46 470.40,508.48 C471.40,508.51 472.40,508.53 473.40,508.55 C474.40,508.57 475.40,508.58 476.40,508.60 C477.40,508.62 478.40,508.63 479.40,508.65 C480.40,508.66 481.40,508.67 482.40,508.69 C483.40,508.70 484.40,508.71 485.40,508.72 C486.40,508.73 487.40,508.74 488.40,508.74 C489.40,508.75 490.40,508.75 491.40,508.76 C492.40,508.76 493.40,508.76 494.40,508.77 C495.40,508.77 496.40,508.77 497.40,508.77 C498.40,508.76 499.40,508.76 500.40,508.76 C501.40,508.75 502.70,508.75 503.40,508.74 C504.10,508.74 504.40,508.74 504.60,508.74" fill="none" stroke="#e83030" stroke-width="1.90" stroke-linejoin="round" stroke-linecap="round"/>
</g>
</svg></div>
</body></html>
